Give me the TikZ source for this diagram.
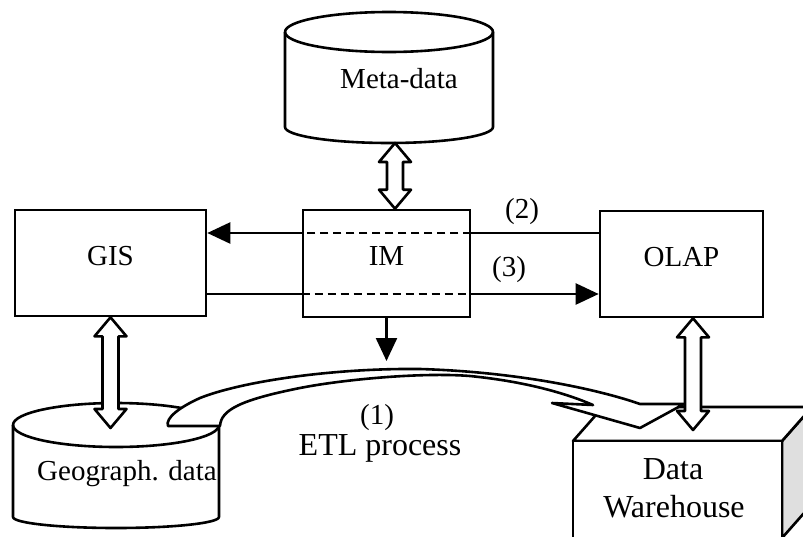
\documentclass[tikz,border=0pt]{standalone}
\usepackage{fontspec}
\setmainfont{Liberation Serif}
\usetikzlibrary{arrows.meta,calc}

% drum: cx, top y, bottom y, rx, top ry, bottom ry
\newcommand{\drum}[6]{%
\draw[lines,fill=white] (#1-#4,#2) -- (#1-#4,#3) arc[start angle=180,end angle=360,x radius=#4,y radius=#6] -- (#1+#4,#2) arc[start angle=0,end angle=180,x radius=#4,y radius=#5];
\draw[lines] (#1-#4,#2) arc[start angle=180,end angle=360,x radius=#4,y radius=#5];}

% hollow double arrow, vertical, from #1 (top) to #2 (bottom)
\newcommand{\hollowarrow}[2]{%
\draw[lines,fill=white] let \p1=(#1), \p2=(#2) in
 (\x1,\y1) -- (\x1+16pt,\y1-19pt) -- (\x1+8pt,\y1-19pt) -- (\x1+8pt,\y2+19pt) -- (\x1+16pt,\y2+19pt) -- (\x1,\y2)
 -- (\x1-16pt,\y2+19pt) -- (\x1-8pt,\y2+19pt) -- (\x1-8pt,\y1-19pt) -- (\x1-16pt,\y1-19pt) -- cycle;}

\begin{document}
\begin{tikzpicture}[x=1pt,y=1pt,
  lines/.style={line width=2.6pt,line join=round},
  box/.style={draw,line width=2.6pt,rectangle,text height=12pt,text depth=8pt},
  flow/.style={line width=2.4pt,-{Triangle[length=23pt,width=21pt]}},
  imdash/.style={line width=2.2pt,dash pattern=on 8pt off 5pt},
  txt/.style={font=\fontsize{29}{34}\selectfont},
  bigtxt/.style={font=\fontsize{32}{38}\selectfont}]
\useasboundingbox (0,0) rectangle (803,-536);
\clip (0,0) rectangle (803,-536);
%data warehouse cube
\draw[lines,fill=gray!25] (782,-441) -- (812,-407) -- (812,-504) -- (782,-538) -- cycle;
\draw[lines,fill=white] (573,-441) -- (603,-407) -- (812,-407) -- (782,-441) -- cycle;
\draw[lines,fill=white] (573,-441) rectangle (782,-538);
\node[bigtxt,anchor=base] (dwa) at (673,-479) {Data};
\node[bigtxt,anchor=base] (dwb) at (674,-517) {Warehouse};
%geographic data
\drum{116}{-425}{-517}{103}{22}{11}
\node[txt,anchor=base] (geo) at (127,-480) {Geograph. data};
%meta-data
\drum{389}{-32}{-127}{104}{20}{16}
\node[txt,anchor=base] (meta) at (399,-88) {Meta-data};
%ETL arrow
\draw[lines,fill=white] (168,-426) -- (220,-426)
  .. controls (221,-410) and (240,-400) .. (300,-388)
  .. controls (340,-380) and (420,-372) .. (470,-376)
  .. controls (530,-382) and (570,-395) .. (593,-405)
  -- (552,-403) -- (640,-428) -- (684,-404) -- (640,-404)
  .. controls (600,-390) and (520,-372) .. (420,-369)
  .. controls (330,-368) and (240,-382) .. (200,-398)
  .. controls (180,-407) and (165,-418) .. (168,-426) -- cycle;
\node[txt,anchor=base] (lbl1) at (377,-424) {(1)};
\node[bigtxt,anchor=base] (etl) at (380,-455) {ETL process};
%boxes
\node[box,txt,minimum width=191pt,minimum height=106pt] (GIS) at (110.5,-263) {GIS};
\node[box,txt,minimum width=167pt,minimum height=107pt] (IM) at (386.5,-263.5) {IM};
\node[box,txt,minimum width=163pt,minimum height=106pt] (OLAP) at (681.5,-264) {OLAP};
\coordinate (y2) at (0,-233);
\coordinate (y3) at (0,-294);
\coordinate (metabot) at (395,-143);
\coordinate (geotop) at (110,-428);
\coordinate (dwtop) at (693,-430);
\coordinate (imout) at (386.5,-361);
%(2) OLAP to GIS
\draw[lines] (OLAP.west |- y2) -- (IM.east |- y2);
\draw[imdash] (IM.east |- y2) -- (IM.west |- y2);
\draw[flow] (IM.west |- y2) -- (GIS.east |- y2);
%(3) GIS to OLAP
\draw[lines] (GIS.east |- y3) -- (IM.west |- y3);
\draw[imdash] (IM.west |- y3) -- (IM.east |- y3);
\draw[flow] (IM.east |- y3) -- (OLAP.west |- y3);
\node[txt,anchor=base] (lbl2) at (522,-218) {(2)};
\node[txt,anchor=base] (lbl3) at (509,-276) {(3)};
%IM down to ETL
\draw[flow] (IM.south) -- (imout);
%double arrows
\hollowarrow{metabot}{IM.north}
\hollowarrow{GIS.south}{geotop}
\hollowarrow{OLAP.south -| dwtop}{dwtop}
\end{tikzpicture}
\end{document}
